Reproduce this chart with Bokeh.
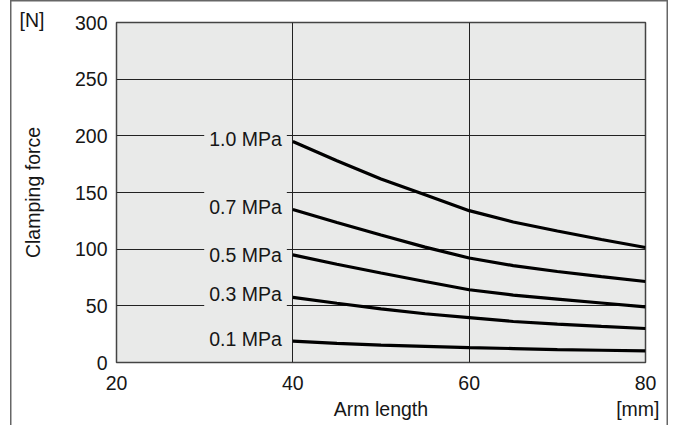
from bokeh.plotting import figure
from bokeh.models import Range1d, Label, Title, FixedTicker
from bokeh.embed import file_html
from bokeh.resources import INLINE

arm_length = [40, 45, 50, 55, 60, 65, 70, 75, 80]
force_10 = [195, 178, 162, 148, 134, 124, 116, 108.5, 101.5]
force_07 = [135, 123.5, 112.5, 101.8, 92.2, 85.5, 80.3, 75.8, 71.5]
force_05 = [95, 86.7, 79, 71.5, 64.2, 59.5, 56, 52.5, 49]
force_03 = [57.5, 52.3, 47.3, 43, 39.6, 36.2, 33.8, 31.8, 30]
force_01 = [18.8, 16.8, 15.4, 14.3, 13.1, 12.3, 11.4, 10.8, 10.2]

series_names = ["1.0 MPa", "0.7 MPa", "0.5 MPa", "0.3 MPa", "0.1 MPa"]
series_values = [force_10, force_07, force_05, force_03, force_01]
label_y = [197, 137.5, 95, 60.5, 21]

x_ticks = [20, 40, 60, 80]
y_ticks = [0, 50, 100, 150, 200, 250, 300]

FONT = "Liberation Sans"
FS = "19.5px"
BG = "#e9eae9"
TXT = "#161616"

p = figure(width=658, height=425, output_backend="svg", toolbar_location=None,
           x_range=Range1d(20, 80), y_range=Range1d(0, 300),
           min_border_left=106, min_border_right=23, min_border_top=22,
           min_border_bottom=63)
p.margin = (0, 0, 0, 10)
p.styles = {"box-shadow": "inset 1.5px 0 0 #666666, inset -1.5px 0 0 #666666, inset 0 1.5px 0 #666666"}
p.background_fill_color = BG
p.border_fill_color = None
p.outline_line_color = "#444444"
p.outline_line_width = 1.5

for ax in (p.xaxis, p.yaxis):
    ax.axis_line_color = None
    ax.major_tick_line_color = None
    ax.minor_tick_line_color = None
    ax.major_tick_out = 0
    ax.major_tick_in = 0
    ax.major_label_text_font = FONT
    ax.major_label_text_font_size = FS
    ax.major_label_text_color = TXT
    ax.axis_label_text_font = FONT
    ax.axis_label_text_font_size = FS
    ax.axis_label_text_font_style = "normal"
    ax.axis_label_text_color = TXT

p.xaxis.ticker = FixedTicker(ticks=x_ticks)
p.yaxis.ticker = FixedTicker(ticks=y_ticks)
p.xaxis.major_label_standoff = 13
p.yaxis.major_label_standoff = 9
p.xaxis.axis_label = "Arm length"
p.xaxis.axis_label_standoff = 5
p.yaxis.axis_label = "Clamping force"
p.yaxis.axis_label_standoff = 28

p.xgrid.ticker = FixedTicker(ticks=[40, 60])
p.ygrid.ticker = FixedTicker(ticks=[50, 100, 150, 200, 250])
p.xgrid.grid_line_color = "#222222"
p.ygrid.grid_line_color = "#222222"
p.xgrid.grid_line_width = 1
p.ygrid.grid_line_width = 1

for name, vals, ly in zip(series_names, series_values, label_y):
    p.line(arm_length, vals, line_color="black", line_width=3.2)
    p.add_layout(Label(x=arm_length[0], y=ly, text=name, x_offset=-6,
                       text_align="right", text_baseline="middle",
                       text_font=FONT, text_font_size=FS, text_color=TXT,
                       background_fill_color=BG, background_fill_alpha=1.0,
                       padding=5))

p.add_layout(Title(text="[N]", align="left", offset=-97, standoff=-16,
                   text_font=FONT, text_font_size=FS, text_font_style="normal",
                   text_color=TXT), "above")
p.add_layout(Title(text="[mm]", align="right", offset=-14, standoff=-50,
                   vertical_align="top",
                   text_font=FONT, text_font_size=FS, text_font_style="normal",
                   text_color=TXT), "below")

open("out.html", "w").write(file_html(p, INLINE))
